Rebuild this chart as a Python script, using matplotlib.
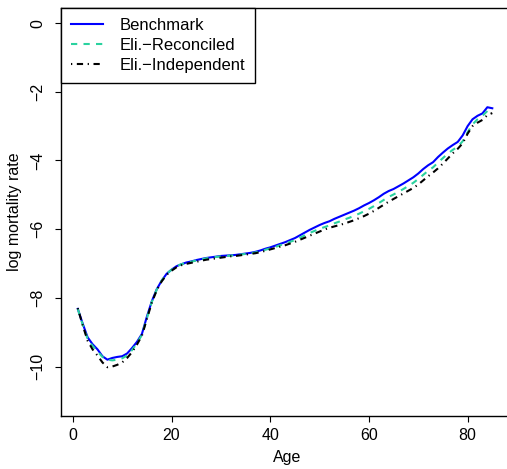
import numpy as np
import matplotlib
matplotlib.use("Agg")
import matplotlib.pyplot as plt

plt.rcParams.update({
    "font.family": ["Liberation Sans", "DejaVu Sans"],
    "font.size": 11.5,
    "axes.unicode_minus": True,
})

ages = list(range(1, 86))

benchmark = [
    -8.32, -8.75, -9.15, -9.35, -9.50, -9.70, -9.80, -9.75, -9.72, -9.70,
    -9.62, -9.46, -9.28, -9.05, -8.55, -8.10, -7.75, -7.50, -7.30, -7.18,
    -7.08, -7.02, -6.97, -6.94, -6.90, -6.87, -6.84, -6.82, -6.80, -6.78,
    -6.77, -6.76, -6.75, -6.73, -6.71, -6.69, -6.66, -6.62, -6.57, -6.53,
    -6.48, -6.43, -6.38, -6.32, -6.26, -6.18, -6.10, -6.02, -5.95, -5.88,
    -5.82, -5.77, -5.70, -5.64, -5.58, -5.52, -5.46, -5.39, -5.31, -5.24,
    -5.16, -5.07, -4.97, -4.89, -4.83, -4.75, -4.67, -4.58, -4.49, -4.38,
    -4.25, -4.14, -4.05, -3.90, -3.77, -3.65, -3.55, -3.46, -3.27, -3.00,
    -2.80, -2.70, -2.63, -2.45, -2.48,
]

reconciled = [
    -8.32, -8.78, -9.20, -9.40, -9.56, -9.72, -9.80, -9.82, -9.80, -9.76,
    -9.68, -9.52, -9.32, -9.08, -8.60, -8.12, -7.76, -7.50, -7.30, -7.18,
    -7.08, -7.02, -6.98, -6.95, -6.91, -6.88, -6.85, -6.83, -6.81, -6.79,
    -6.78, -6.77, -6.76, -6.74, -6.72, -6.70, -6.68, -6.64, -6.60, -6.56,
    -6.52, -6.47, -6.42, -6.37, -6.32, -6.25, -6.18, -6.11, -6.05, -5.99,
    -5.94, -5.89, -5.83, -5.78, -5.72, -5.67, -5.61, -5.55, -5.48, -5.41,
    -5.33, -5.24, -5.15, -5.06, -4.99, -4.91, -4.83, -4.74, -4.65, -4.54,
    -4.42, -4.30, -4.20, -4.06, -3.93, -3.80, -3.69, -3.60, -3.44, -3.18,
    -2.95, -2.80, -2.70, -2.56, -2.52,
]

independent = [
    -8.30, -8.80, -9.25, -9.50, -9.68, -9.88, -10.02, -10.00, -9.95, -9.88,
    -9.75, -9.58, -9.36, -9.10, -8.62, -8.14, -7.78, -7.52, -7.33, -7.21,
    -7.11, -7.05, -7.01, -6.98, -6.95, -6.92, -6.89, -6.87, -6.85, -6.83,
    -6.81, -6.79, -6.78, -6.76, -6.74, -6.72, -6.70, -6.67, -6.63, -6.59,
    -6.55, -6.51, -6.47, -6.42, -6.37, -6.31, -6.25, -6.19, -6.13, -6.07,
    -6.01, -5.96, -5.92, -5.88, -5.84, -5.79, -5.74, -5.68, -5.62, -5.55,
    -5.47, -5.38, -5.29, -5.20, -5.12, -5.04, -4.96, -4.88, -4.80, -4.70,
    -4.58, -4.46, -4.35, -4.23, -4.09, -3.94, -3.79, -3.66, -3.50, -3.22,
    -3.00, -2.90, -2.82, -2.68, -2.62,
]

BLUE = "#0000FF"
GREEN = "#2AD29F"

fig = plt.figure(figsize=(5.07, 4.69), dpi=100)
# axes box runs past the right edge, as in the cropped original
ax = fig.add_axes([0.1203, 0.113, 0.8935, 0.870])

ax.plot(ages, benchmark, color=BLUE, lw=1.5, label="Benchmark")
ax.plot(ages, reconciled, color=GREEN, lw=1.5, ls=(0, (3, 3)),
        label="Eli.\u2212Reconciled")
ax.plot(ages, independent, color="black", lw=1.5,
        ls=(0, (0.6, 2.2, 3, 2.2)), label="Eli.\u2212Independent")

ax.set_xlim(-2.4, 89.4)
ax.set_ylim(-11.44, 0.44)
ax.set_xticks([0, 20, 40, 60, 80])
ax.set_yticks([0, -2, -4, -6, -8, -10])
ax.tick_params(length=4.3, width=0.8, pad=4.5)
ax.tick_params(axis="y", pad=7)
for lab in ax.get_yticklabels():
    lab.set_rotation(90)
    lab.set_va("center")
for sp in ax.spines.values():
    sp.set_linewidth(1.0)

ax.set_xlabel("Age", labelpad=5)
ax.set_ylabel("log mortality rate", labelpad=6)

leg = ax.legend(loc="upper left", borderaxespad=0, fancybox=False,
                edgecolor="black", framealpha=1, handlelength=1.9,
                handletextpad=1.0, borderpad=0.6, labelspacing=0.3,
                fontsize=12)
leg.get_frame().set_linewidth(1.0)

fig.savefig("out.png", dpi=100)
